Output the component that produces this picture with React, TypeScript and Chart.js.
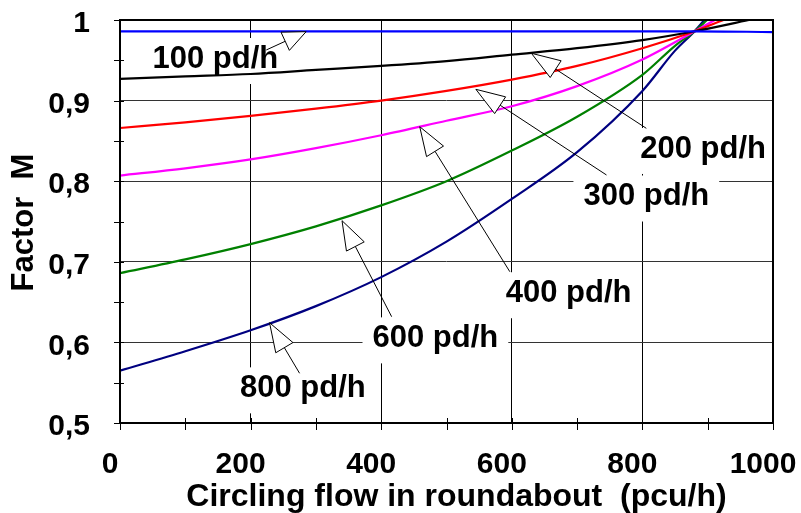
import React, { useEffect, useRef } from "react";
import { Chart, registerables } from "chart.js";

Chart.register(...registerables);

const FONT = '"Liberation Sans", Arial, Helvetica, sans-serif';

// ---- data ----
const flow100 = [0, 200, 400, 600, 800, 880, 1000];
const m100 = [0.986, 0.986, 0.986, 0.986, 0.986, 0.986, 0.985];

const flow200 = [0, 100, 200, 300, 400, 500, 600, 700, 800, 880, 963];
const m200 = [0.927, 0.93, 0.933, 0.938, 0.943, 0.949, 0.957, 0.965, 0.975, 0.986, 1.0];

const flow300 = [0, 100, 200, 300, 400, 500, 600, 700, 800, 880, 924];
const m300 = [0.866, 0.873, 0.881, 0.89, 0.9, 0.912, 0.926, 0.943, 0.965, 0.986, 1.0];

const flow400 = [0, 100, 200, 300, 400, 500, 600, 700, 800, 880, 911];
const m400 = [0.807, 0.816, 0.827, 0.841, 0.857, 0.875, 0.893, 0.918, 0.951, 0.986, 1.0];

const flow600 = [0, 100, 200, 300, 400, 500, 600, 700, 800, 850, 880, 899];
const m600 = [0.686, 0.703, 0.722, 0.744, 0.77, 0.8, 0.838, 0.88, 0.932, 0.968, 0.986, 1.0];

const flow800 = [0, 100, 200, 300, 400, 500, 600, 700, 800, 850, 880, 895];
const m800 = [0.565, 0.589, 0.615, 0.645, 0.681, 0.725, 0.778, 0.836, 0.912, 0.962, 0.986, 1.0];

const xTitle = "Circling flow in roundabout  (pcu/h)";
const yTitle = "Factor  M";

// callout labels (text, anchor of text, arrow tip, arrow tail start) in data units
const calloutText = ["100 pd/h", "200 pd/h", "300 pd/h", "400 pd/h", "600 pd/h", "800 pd/h"];
const calloutFlow = [146, 893, 806, 687, 483, 280];
const calloutFactor = [0.9516, 0.84, 0.781, 0.661, 0.605, 0.543];
const tipFlow = [285, 630, 545, 459, 340, 229];
const tipFactor = [0.9855, 0.9587, 0.914, 0.8676, 0.751, 0.6244];
const tailFlow = [224, 806, 745, 597, 416, 275];
const tailFactor = [0.9628, 0.8656, 0.8077, 0.6877, 0.6319, 0.5617];
const headLen = [23, 29, 29, 29, 29, 29];

const seriesDefs = [
  { flow: flow100, m: m100, color: "#0000FF" },
  { flow: flow200, m: m200, color: "#000000" },
  { flow: flow300, m: m300, color: "#FF0000" },
  { flow: flow400, m: m400, color: "#FF00FF" },
  { flow: flow600, m: m600, color: "#008000" },
  { flow: flow800, m: m800, color: "#000080" },
];

const decorPlugin = {
  id: "decor",
  beforeDatasetsDraw(chart: any) {
    const { ctx } = chart;
    const x = chart.scales.x;
    const y = chart.scales.y;
    ctx.save();
    ctx.font = `bold 31px ${FONT}`;
    ctx.fillStyle = "#ffffff";
    calloutText.forEach((t, i) => {
      const cx = x.getPixelForValue(calloutFlow[i]);
      const cy = y.getPixelForValue(calloutFactor[i]);
      const w = ctx.measureText(t).width;
      ctx.fillRect(cx - w / 2 - 10, cy - 21, w + 20, 46);
    });
    ctx.restore();
  },
  afterDatasetsDraw(chart: any) {
    const { ctx } = chart;
    const x = chart.scales.x;
    const y = chart.scales.y;
    ctx.save();
    ctx.lineWidth = 1;
    ctx.strokeStyle = "#000";
    calloutText.forEach((_, i) => {
      const tx = x.getPixelForValue(tipFlow[i]);
      const ty = y.getPixelForValue(tipFactor[i]);
      const sx = x.getPixelForValue(tailFlow[i]);
      const sy = y.getPixelForValue(tailFactor[i]);
      const dx = tx - sx;
      const dy = ty - sy;
      const L = Math.hypot(dx, dy) || 1;
      const ux = dx / L;
      const uy = dy / L;
      const hl = headLen[i];
      const hw = 10;
      const bx = tx - ux * hl;
      const by = ty - uy * hl;
      const px = -uy;
      const py = ux;
      ctx.beginPath();
      ctx.moveTo(sx, sy);
      ctx.lineTo(bx, by);
      ctx.stroke();
      ctx.beginPath();
      ctx.moveTo(tx, ty);
      ctx.lineTo(bx + px * hw, by + py * hw);
      ctx.lineTo(bx - px * hw, by - py * hw);
      ctx.closePath();
      ctx.fillStyle = "#fff";
      ctx.fill();
      ctx.stroke();
    });
    ctx.font = `bold 31px ${FONT}`;
    ctx.fillStyle = "#000";
    ctx.textAlign = "center";
    ctx.textBaseline = "middle";
    calloutText.forEach((t, i) => {
      ctx.fillText(t, x.getPixelForValue(calloutFlow[i]), y.getPixelForValue(calloutFactor[i]));
    });
    ctx.restore();
  },
  afterDraw(chart: any) {
    const { ctx, chartArea } = chart;
    const x = chart.scales.x;
    const y = chart.scales.y;
    const { left, right, top, bottom } = chartArea;
    ctx.save();
    // tick marks crossing the axes
    ctx.strokeStyle = "#000";
    ctx.lineWidth = 1;
    x.ticks.forEach((tk: any) => {
      const px = Math.round(x.getPixelForValue(tk.value)) + 0.5;
      ctx.beginPath();
      ctx.moveTo(px, bottom - 5);
      ctx.lineTo(px, bottom + 7);
      ctx.stroke();
    });
    y.ticks.forEach((tk: any) => {
      const py = Math.round(y.getPixelForValue(tk.value)) + 0.5;
      ctx.beginPath();
      ctx.moveTo(left - 6, py);
      ctx.lineTo(left + 4, py);
      ctx.stroke();
    });
    // frame
    ctx.lineWidth = 2;
    ctx.strokeRect(left, top, right - left, bottom - top);
    // axis titles
    ctx.fillStyle = "#000";
    ctx.font = `bold 32px ${FONT}`;
    ctx.textAlign = "center";
    ctx.textBaseline = "alphabetic";
    ctx.fillText(xTitle, (left + right) / 2 + 10, 506);
    ctx.font = `bold 31px ${FONT}`;
    ctx.translate(24, (top + bottom) / 2 + 1);
    ctx.rotate(-Math.PI / 2);
    ctx.textBaseline = "middle";
    ctx.fillText(yTitle, 0, 0);
    ctx.restore();
  },
};

export default function App() {
  const ref = useRef<HTMLCanvasElement | null>(null);
  useEffect(() => {
    if (!ref.current) return;
    const chart = new Chart(ref.current, {
      type: "line",
      data: {
        datasets: seriesDefs.map((s) => ({
          data: s.flow.map((f, i) => ({ x: f, y: s.m[i] })),
          borderColor: s.color,
          borderWidth: 2.2,
          pointRadius: 0,
          fill: false,
          cubicInterpolationMode: "monotone" as const,
        })),
      },
      options: {
        animation: false,
        responsive: false,
        devicePixelRatio: 1,
        layout: { padding: { top: 20, right: 28, left: 0, bottom: 0 } },
        plugins: { legend: { display: false }, tooltip: { enabled: false } },
        scales: {
          x: {
            type: "linear",
            min: 0,
            max: 1000,
            afterFit: (s: any) => {
              s.height = 90;
              s.paddingLeft = 0;
              s.paddingRight = 0;
              s.paddingTop = 0;
              s.paddingBottom = 0;
            },
            border: { display: false },
            grid: {
              drawTicks: false,
              lineWidth: 1,
              color: (c: any) =>
                c.tick && Math.round(c.tick.value) % 200 === 0 ? "#000" : "rgba(0,0,0,0)",
            },
            ticks: {
              stepSize: 100,
              autoSkip: false,
              maxRotation: 0,
              labelOffset: -10,
              padding: 24,
              color: "#000",
              font: { family: FONT, size: 30, weight: "bold" },
              callback: (v: any) => (Math.round(v) % 200 === 0 ? String(Math.round(v)) : ""),
            },
          },
          y: {
            min: 0.5,
            max: 1,
            afterFit: (s: any) => {
              s.width = 120;
              s.paddingLeft = 0;
              s.paddingRight = 0;
              s.paddingTop = 0;
              s.paddingBottom = 0;
            },
            border: { display: false },
            grid: {
              drawTicks: false,
              lineWidth: 1,
              color: (c: any) =>
                c.tick && Math.round(c.tick.value * 100) % 10 === 0 ? "#333" : "rgba(0,0,0,0)",
            },
            ticks: {
              stepSize: 0.05,
              autoSkip: false,
              labelOffset: 4,
              padding: 30,
              color: "#000",
              font: { family: FONT, size: 30, weight: "bold" },
              callback: (v: any) => {
                const k = Math.round(v * 100);
                if (k % 10 !== 0) return "";
                if (k === 100) return "1";
                return (k / 100).toFixed(1).replace(".", ",");
              },
            },
          },
        },
      },
      plugins: [decorPlugin],
    });
    return () => chart.destroy();
  }, []);
  return (
    <div style={{ position: "absolute", left: 0, top: 0, width: 801, height: 513, background: "#fff" }}>
      <canvas ref={ref} width={801} height={513} style={{ display: "block", width: 801, height: 513 }} />
    </div>
  );
}
